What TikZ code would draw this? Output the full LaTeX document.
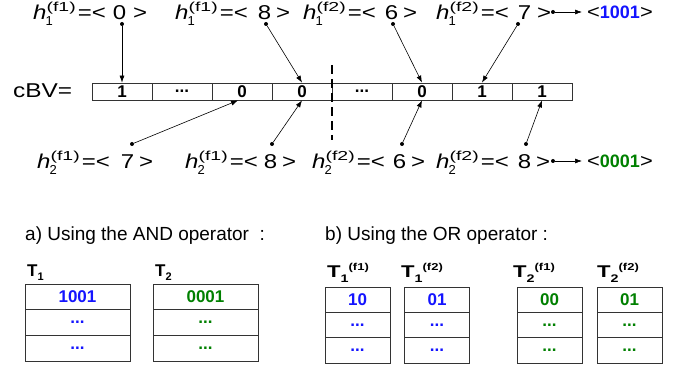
\documentclass[tikz,border=0pt]{standalone}
\usepackage{fontspec}
\setmainfont{Liberation Sans}
\usepackage{graphicx}
\usetikzlibrary{arrows.meta,calc}
\definecolor{myblue}{RGB}{20,20,255}
\definecolor{mygreen}{RGB}{0,128,0}
% #1 sub, #2 sup, #3 value, #4 gap before value, #5 gap after value
\newcommand{\hlab}[5]{{\fontsize{20}{22}\selectfont\scalebox{1.2}[1]{\textit{h}}\kern-1pt\rlap{\raisebox{-0.55ex}{\fontsize{13}{13}\selectfont #1}}\kern1pt\raisebox{0.85ex}{\scalebox{1.5}[1]{\fontsize{13}{13}\selectfont(#2)}}\kern2pt\scalebox{1.2}[1]{=<}\hspace{#4pt}\scalebox{1.2}[1]{#3}\hspace{#5pt}\scalebox{1.2}[1]{>}}}
\newcommand{\tlab}[2]{\scalebox{1.3}[1]{\fontsize{17}{17}\selectfont\bfseries T\raisebox{-0.5ex}{\fontsize{11}{11}\selectfont #1}\raisebox{0.8ex}{\fontsize{10}{10}\selectfont(#2)}}}
\begin{document}
\begin{tikzpicture}[x=1pt,y=-1pt,
 lab/.style={inner sep=0pt,anchor=base west},
 cell/.style={draw=black!80,line width=0.8pt,minimum width=60pt,minimum height=17pt,inner sep=0pt,font=\fontsize{17}{17}\selectfont\bfseries},
 dot/.style={circle,fill=black,inner sep=0pt,minimum size=4pt},
 arr/.style={-{Latex[length=7pt,width=5pt]},line width=0.6pt},
 trow/.style={draw=black!80,line width=0.8pt,minimum height=25.5pt,inner sep=0pt,font=\fontsize{17}{17}\selectfont\bfseries},
]
\useasboundingbox (0,0) rectangle (681,371);
% top labels
\node[lab] (t1) at (33,20) {\hlab{1}{f1}{0}{7}{7}};
\node[lab] (t2) at (175,20) {\hlab{1}{f1}{8}{10}{5}};
\node[lab] (t3) at (303,20) {\hlab{1}{f2}{6}{9}{5}};
\node[lab] (t4) at (436,20) {\hlab{1}{f2}{7}{9}{6}};
% bottom labels
\node[lab] (b1) at (37,169) {\hlab{2}{f1}{7}{11}{5}};
\node[lab] (b2) at (185,169) {\hlab{2}{f1}{8}{6}{5}};
\node[lab] (b3) at (312,169) {\hlab{2}{f2}{6}{8}{5}};
\node[lab] (b4) at (436,169) {\hlab{2}{f2}{8}{9}{5}};
% cBV
\node[anchor=west,inner sep=0pt] (cbv) at (13,91) {\scalebox{1.22}[1]{\fontsize{20}{20}\selectfont cBV=}};
\node[cell] (c1) at (122,91.5) {1};
\node[cell] (c2) at (182,91.5) {...};
\node[cell] (c3) at (242,91.5) {0};
\node[cell] (c4) at (302,91.5) {0};
\node[cell] (c5) at (362,91.5) {...};
\node[cell] (c6) at (422,91.5) {0};
\node[cell] (c7) at (482,91.5) {1};
\node[cell] (c8) at (542,91.5) {1};
\coordinate (dtop) at (332,65);
\coordinate (dbot) at (332,140);
\draw[dash pattern=on 9pt off 5pt,line width=1.5pt] (dtop) -- (dbot);
% top arrows
\node[dot] (d1) at (122,24) {};
\node[dot] (d2) at (266,24) {};
\node[dot] (d3) at (393,24) {};
\node[dot] (d4) at (518,24) {};
\draw[arr] (d1) -- (c1.north);
\draw[arr] (d2) -- (c4.north);
\draw[arr] (d3) -- (c6.north);
\draw[arr] (d4) -- (c7.north);
% bottom arrows
\node[dot] (e1) at (132,144) {};
\node[dot] (e2) at (272,144) {};
\node[dot] (e3) at (402,144) {};
\node[dot] (e4) at (526,144) {};
\draw[arr] (e1) -- ($(c3.south)+(-4,0)$);
\draw[arr] (e2) -- (c4.south);
\draw[arr] (e3) -- (c6.south);
\draw[arr] (e4) -- (c8.south);
% results
\node[dot] (dr1) at (553,12) {};
\node[anchor=west,inner sep=0pt] (r1) at (587,12) {\scalebox{1.15}[1]{\fontsize{19}{19}\selectfont<}\textcolor{myblue}{\fontsize{18}{18}\selectfont\bfseries 1001}\scalebox{1.15}[1]{\fontsize{19}{19}\selectfont>}};
\draw[arr] (dr1) -- ($(r1.west)+(-5,0)$);
\node[dot] (dr2) at (553,161) {};
\node[anchor=west,inner sep=0pt] (r2) at (587,161) {\scalebox{1.15}[1]{\fontsize{19}{19}\selectfont<}\textcolor{mygreen}{\fontsize{18}{18}\selectfont\bfseries 0001}\scalebox{1.15}[1]{\fontsize{19}{19}\selectfont>}};
\draw[arr] (dr2) -- ($(r2.west)+(-5,0)$);
% captions
\node[lab] (capa) at (25,241) {\fontsize{19}{19}\selectfont a) Using the AND operator~~:};
\node[lab] (capb) at (325,241) {\fontsize{19}{19}\selectfont b) Using the OR operator :};
% AND tables
\node[lab] (T1) at (27,277) {\fontsize{17}{17}\selectfont\bfseries T\raisebox{-0.4ex}{\fontsize{11}{11}\selectfont 1}};
\node[lab] (T2) at (155,277) {\fontsize{17}{17}\selectfont\bfseries T\raisebox{-0.4ex}{\fontsize{11}{11}\selectfont 2}};
\begin{scope}[every node/.append style={trow,minimum width=105pt}]
\node[text=myblue] (a11) at (77.5,296.8) {1001};
\node[text=myblue] (a12) at (77.5,322.5) {...};
\node[text=myblue] (a13) at (77.5,348.2) {...};
\node[text=mygreen] (a21) at (205.5,296.8) {0001};
\node[text=mygreen] (a22) at (205.5,322.5) {...};
\node[text=mygreen] (a23) at (205.5,348.2) {...};
\end{scope}
% OR tables
\node[lab] (U1) at (327,278) {\tlab{1}{f1}};
\node[lab] (U2) at (401,278) {\tlab{1}{f2}};
\node[lab] (U3) at (513,278) {\tlab{2}{f1}};
\node[lab] (U4) at (597,278) {\tlab{2}{f2}};
\begin{scope}[every node/.append style={trow,minimum width=65pt,minimum height=25.3pt}]
\node[text=myblue] (o11) at (357.5,299.7) {10};
\node[text=myblue] (o12) at (357.5,325) {...};
\node[text=myblue] (o13) at (357.5,350.3) {...};
\node[text=myblue] (o21) at (437,299.7) {01};
\node[text=myblue] (o22) at (437,325) {...};
\node[text=myblue] (o23) at (437,350.3) {...};
\node[text=mygreen] (o31) at (549.5,299.7) {00};
\node[text=mygreen] (o32) at (549.5,325) {...};
\node[text=mygreen] (o33) at (549.5,350.3) {...};
\node[text=mygreen] (o41) at (629.5,299.7) {01};
\node[text=mygreen] (o42) at (629.5,325) {...};
\node[text=mygreen] (o43) at (629.5,350.3) {...};
\end{scope}
\end{tikzpicture}
\end{document}
